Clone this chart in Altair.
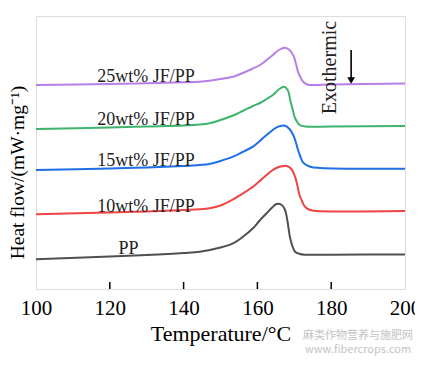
import altair as alt
import pandas as pd

# ---- data ----
series_names = ["PP", "10wt% JF/PP", "15wt% JF/PP", "20wt% JF/PP", "25wt% JF/PP"]
series_colors = ["#505050", "#f04444", "#1f6fe6", "#3db46c", "#b87ee8"]

pp_t = [100, 120, 130, 140, 144.4, 150, 153.4, 156, 158.8, 160.5, 162.5, 164, 165.2, 166.6, 167.5, 168.1, 169, 170.2, 171.5, 173, 180, 200]
pp_v = [2.97, 3.25, 3.4, 3.6, 3.73, 4.15, 4.57, 5.2, 6.07, 6.8, 7.57, 8.15, 8.5, 8.4, 7.9, 6.9, 4.9, 3.73, 3.5, 3.43, 3.43, 3.45]

f10_t = [100, 120, 130, 140, 144.4, 147, 150, 153.4, 156, 158.8, 160.5, 162.5, 164, 165.6, 167, 168, 169.2, 170.2, 170.8, 171.4, 172.2, 172.9, 174.3, 176, 200]
f10_v = [7.47, 7.65, 7.75, 7.9, 7.97, 8.07, 8.35, 8.97, 9.55, 10.23, 10.75, 11.4, 11.85, 12.17, 12.3, 12.3, 12.0, 11.23, 10.4, 9.4, 8.7, 8.23, 7.9, 7.8, 7.8]

f15_t = [100, 120, 130, 140, 144.4, 147, 150, 153.4, 156, 158.8, 160.5, 162.5, 164, 165.2, 166.5, 167.5, 168.7, 169.7, 170.4, 171, 171.7, 172.4, 174.3, 177, 200]
f15_v = [11.9, 12.05, 12.15, 12.3, 12.4, 12.5, 12.8, 13.23, 13.7, 14.23, 14.75, 15.4, 15.85, 16.17, 16.33, 16.33, 16.0, 15.4, 14.7, 13.9, 13.2, 12.63, 12.23, 12.1, 12.03]

f20_t = [100, 120, 130, 140, 144.4, 147, 150, 153.4, 156, 158.8, 160.7, 162.5, 164.2, 165.8, 167.2, 168.2, 169, 169.6, 170.2, 171.5, 173, 180, 200]
f20_v = [16.0, 16.15, 16.25, 16.35, 16.45, 16.58, 16.9, 17.35, 17.8, 18.3, 18.6, 19.0, 19.4, 19.95, 20.23, 19.9, 18.73, 17.9, 17.1, 16.4, 16.25, 16.25, 16.3]

f25_t = [100, 120, 130, 140, 144.4, 147, 150, 153.4, 156, 158.5, 160.7, 162.5, 164.2, 165.8, 167.5, 168.7, 169.7, 170.4, 171, 171.7, 172.4, 173.5, 175, 180, 200]
f25_v = [20.4, 20.5, 20.57, 20.67, 20.73, 20.83, 21.0, 21.23, 21.6, 22.0, 22.4, 22.9, 23.4, 23.9, 24.13, 23.9, 23.4, 22.6, 21.73, 21.15, 20.73, 20.45, 20.4, 20.45, 20.55]

label_t = [125.1, 129.8, 129.8, 129.8, 129.8]
label_v = [3.5, 7.7, 12.3, 16.4, 20.7]

x_ticks = [100, 120, 140, 160, 180, 200]
inner_ticks = [120, 140, 160, 180]

arrow_t = [185.4]
arrow_top = [23.9]
arrow_bottom = [21.0]
arrow_head = [20.85]
exo_text = ["Exothermic"]
exo_t = [179.7]
exo_v = [22.15]

watermark = ["麻类作物营养与施肥网", "www.fibercrops.com"]
watermark_y = [323, 337]

# ---- tables ----
rows = []
for name, ts, vs in zip(series_names, [pp_t, f10_t, f15_t, f20_t, f25_t], [pp_v, f10_v, f15_v, f20_v, f25_v]):
    for i, (t, v) in enumerate(zip(ts, vs)):
        rows.append({"series": name, "T": t, "H": v, "order": i})
curves = pd.DataFrame(rows)
labels = pd.DataFrame({"series": series_names, "T": label_t, "H": label_v})
ticks_df = pd.DataFrame({"T": inner_ticks, "y0": [0.0] * len(inner_ticks), "y1": [0.7] * len(inner_ticks)})
arrow_df = pd.DataFrame({"T": arrow_t, "top": arrow_top, "bottom": arrow_bottom, "head": arrow_head})
exo_df = pd.DataFrame({"label": exo_text, "T": exo_t, "H": exo_v})
wm_df = pd.DataFrame({"label": watermark, "yy": watermark_y})

FONT = "Liberation Serif"
W, H = 369, 273

xscale = alt.Scale(domain=[100, 200], nice=False, zero=False)
yscale = alt.Scale(domain=[0, 27.3], nice=False, zero=False)
cscale = alt.Scale(domain=series_names, range=series_colors)

x_enc = alt.X(
    "T:Q", scale=xscale,
    axis=alt.Axis(
        values=x_ticks, title="Temperature/°C", grid=False, domain=False,
        ticks=False, tickSize=0, labelFontSize=21, labelFont=FONT, labelColor="#000",
        labelPadding=8, labelFlush=False, labelOverlap=False,
        titleFont=FONT, titleFontSize=22, titleFontWeight="normal", titleColor="#000",
        titleX=184.5, titleY=51, titleBaseline="alphabetic", titleAlign="center",
    ),
)
y_enc = alt.Y(
    "H:Q", scale=yscale,
    axis=alt.Axis(
        title="Heat flow/(mW·mg⁻¹)", labels=False, ticks=False, grid=False, domain=False,
        titleFont=FONT, titleFontSize=19.5, titleFontWeight="normal", titleColor="#000",
        titleAngle=270, titleX=-19, titleY=156, titleAlign="center", titleBaseline="middle",
    ),
)

lines = alt.Chart(curves).mark_line(strokeWidth=2, interpolate="catmull-rom").encode(
    x=x_enc, y=y_enc,
    color=alt.Color("series:N", scale=cscale, legend=None),
    detail="series:N",
    order="order:Q",
)

texts = alt.Chart(labels).mark_text(font=FONT, fontSize=18, color="#222", align="center", baseline="alphabetic").encode(
    x=alt.X("T:Q", scale=xscale), y=alt.Y("H:Q", scale=yscale), text="series:N"
)

tick_rules = alt.Chart(ticks_df).mark_rule(color="#000", strokeWidth=1.5).encode(
    x=alt.X("T:Q", scale=xscale), y=alt.Y("y0:Q", scale=yscale), y2="y1:Q"
)

arrow_line = alt.Chart(arrow_df).mark_rule(color="#000", strokeWidth=1.6).encode(
    x=alt.X("T:Q", scale=xscale), y=alt.Y("top:Q", scale=yscale), y2="bottom:Q"
)
arrow_tip = alt.Chart(arrow_df).mark_point(shape="triangle-down", filled=True, color="#000", size=60, opacity=1).encode(
    x=alt.X("T:Q", scale=xscale), y=alt.Y("head:Q", scale=yscale)
)

exo = alt.Chart(exo_df).mark_text(font=FONT, fontSize=20, color="#222", angle=270, align="center", baseline="middle").encode(
    x=alt.X("T:Q", scale=xscale), y=alt.Y("H:Q", scale=yscale), text="label:N"
)

wm = alt.Chart(wm_df).mark_text(font="Noto Sans CJK SC", fontSize=11, color="#c4c4c4", align="center", baseline="alphabetic").encode(
    x=alt.value(322), y=alt.Y("yy:Q", scale=None), text="label:N"
)

chart = alt.layer(lines, texts, tick_rules, arrow_line, arrow_tip, exo, wm).properties(
    width=W, height=H,
    autosize=alt.AutoSizeParams(type="none"),
    padding={"left": 28, "top": 8, "right": 10, "bottom": 68},
).configure_view(stroke="#000", strokeWidth=1.6).configure(background="white")

chart.save("out.html", embed_options={"renderer": "svg", "actions": False})
